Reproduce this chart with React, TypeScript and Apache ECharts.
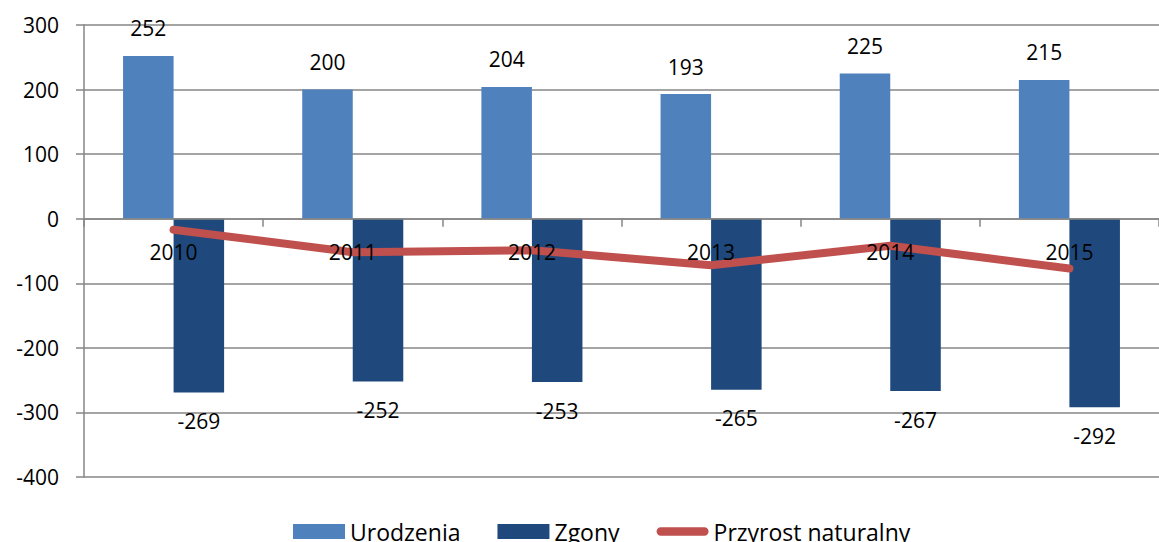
import React, { useEffect, useRef } from "react";
import * as echarts from "echarts";

const categories = ["2010", "2011", "2012", "2013", "2014", "2015"];
const urodzenia = [252, 200, 204, 193, 225, 215];
const zgony = [-269, -252, -253, -265, -267, -292];
const przyrost = [-17, -52, -49, -72, -42, -77];
const yTicks = { min: -400, max: 300, interval: 100 };

const FONT = "'Open Sans', 'Liberation Sans', sans-serif";

const GRID_TOP = 25;
const GRID_H = 452;
// distance from the grid bottom up to the zero value, so the category axis sits on zero
const ZERO_OFFSET = -(GRID_H * (0 - yTicks.min)) / (yTicks.max - yTicks.min);

export default function App() {
  const ref = useRef<HTMLDivElement>(null);
  useEffect(() => {
    if (!ref.current) return;
    const chart = echarts.init(ref.current, undefined, { renderer: "svg" });
    chart.setOption({
      animation: false,
      textStyle: { fontFamily: FONT },
      grid: { left: 84, top: GRID_TOP, width: 1086, height: GRID_H, containLabel: false },
      legend: {
        left: 288,
        top: 515,
        itemWidth: 52,
        itemHeight: 15,
        itemGap: 37,
        textStyle: { fontSize: 23, lineHeight: 22, color: "#000", fontFamily: FONT },
        data: [
          { name: "Urodzenia", icon: "rect" },
          { name: "Zgony", icon: "rect" },
          {
            name: "Przyrost naturalny",
            icon: "path://M4.5,0 H51.5 A4.5,4.5 0 0 1 51.5,9 H4.5 A4.5,4.5 0 0 1 4.5,0 Z",
          },
        ],
      },
      xAxis: {
        type: "category",
        data: categories,
        z: 20,
        offset: ZERO_OFFSET,
        axisLine: { onZero: false, lineStyle: { color: "#868686", width: 1.5 } },
        axisTick: { show: true, length: 8, lineStyle: { color: "#868686", width: 1.5 } },
        axisLabel: { fontSize: 21, color: "#000", margin: 23, fontFamily: FONT },
      },
      yAxis: {
        type: "value",
        min: yTicks.min,
        max: yTicks.max,
        interval: yTicks.interval,
        axisLine: { show: true, lineStyle: { color: "#868686", width: 1.5 } },
        axisTick: { show: true, length: 8, lineStyle: { color: "#868686", width: 1.5 } },
        splitLine: { lineStyle: { color: "#868686", width: 1.5 } },
        axisLabel: { fontSize: 21, color: "#000", margin: 25, fontFamily: FONT },
      },
      series: [
        {
          name: "Urodzenia",
          type: "bar",
          data: urodzenia,
          barGap: "0%",
          barCategoryGap: "43.6%",
          itemStyle: { color: "#4F81BD" },
          label: { show: true, position: "top", distance: 17, fontSize: 21, color: "#000", fontFamily: FONT },
          z: 2,
        },
        {
          name: "Zgony",
          type: "bar",
          data: zgony,
          itemStyle: { color: "#1F497D" },
          label: { show: true, position: "bottom", distance: 18, fontSize: 21, color: "#000", fontFamily: FONT },
          z: 2,
        },
        {
          name: "Przyrost naturalny",
          type: "line",
          data: przyrost,
          symbol: "none",
          itemStyle: { color: "#C0504D" },
          lineStyle: { color: "#C0504D", width: 8, cap: "round", join: "round" },
          z: 10,
        },
      ],
    });
    return () => chart.dispose();
  }, []);
  return (
    <div
      ref={ref}
      style={{ position: "fixed", left: 0, top: 0, width: 1159, height: 542, background: "#fff" }}
    />
  );
}
